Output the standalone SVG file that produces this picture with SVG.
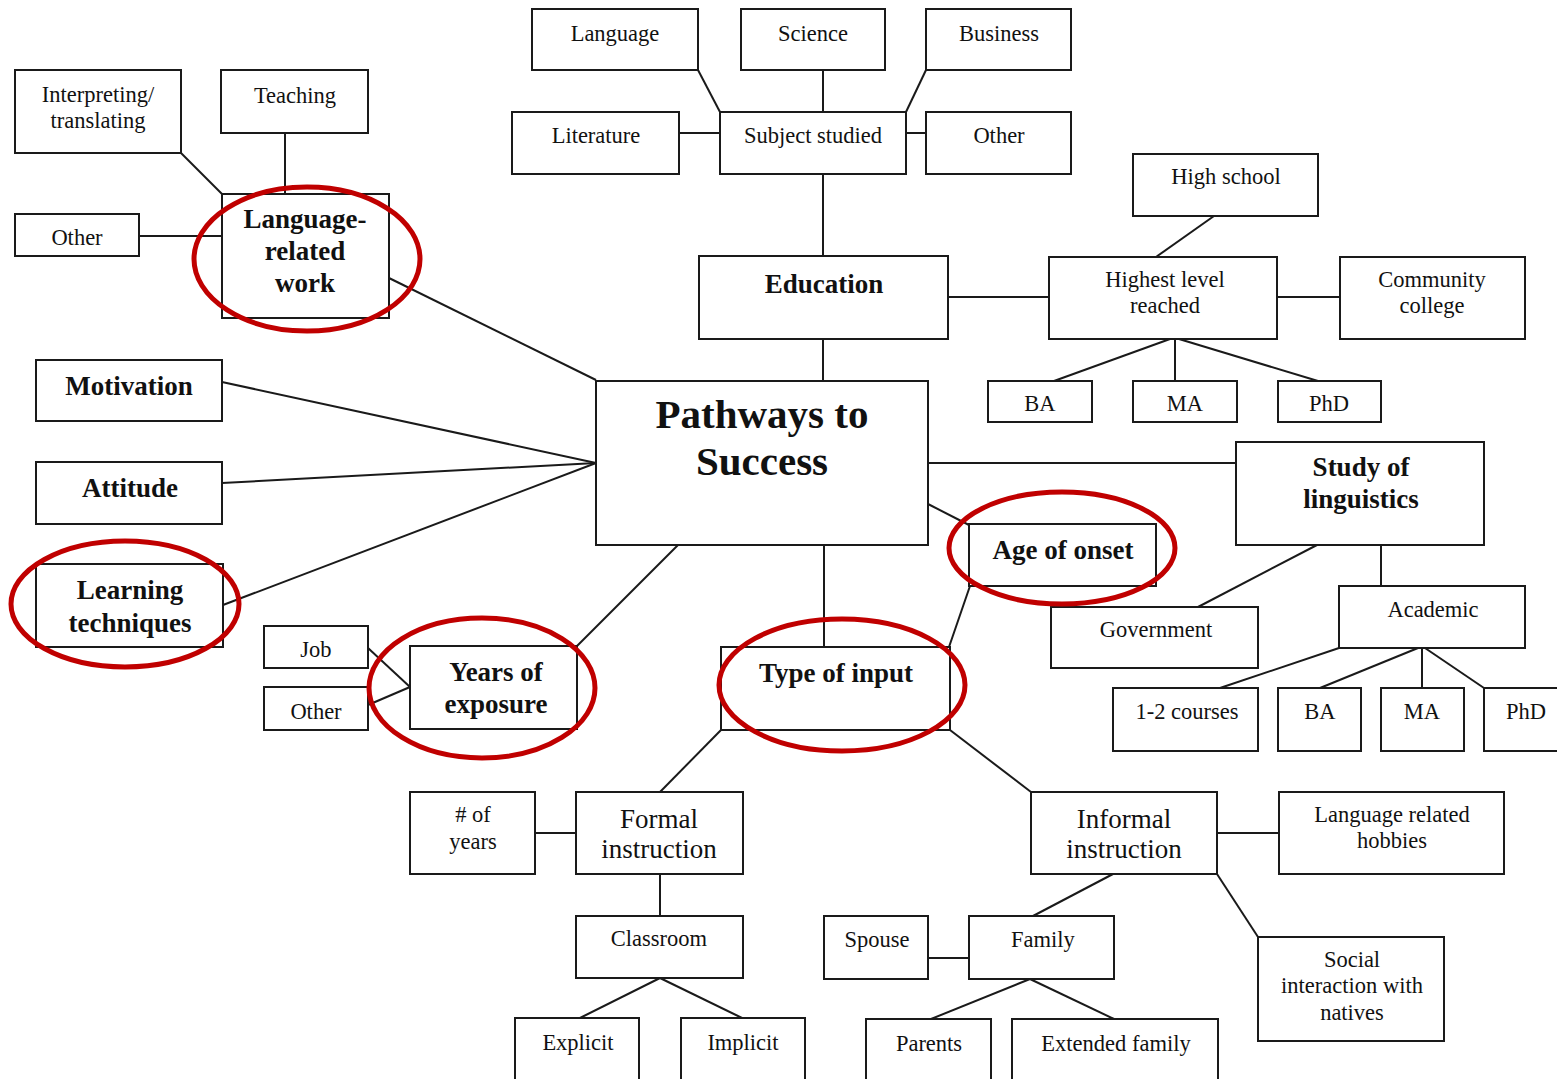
<svg xmlns="http://www.w3.org/2000/svg" width="1557" height="1079" viewBox="0 0 1557 1079">
<style>
.bx{fill:#fff;stroke:#1a1a1a;stroke-width:2}
.ln{stroke:#1a1a1a;stroke-width:2;fill:none}
text{font-family:"Liberation Serif","Times New Roman",serif;font-size:22.5px;text-anchor:middle;fill:#111}
.b{font-weight:bold;font-size:27px}
.big{font-weight:bold;font-size:41px}
.m{font-size:27px}
.ring{fill:none;stroke:#c00000;stroke-width:5}
</style>
<rect width="1557" height="1079" fill="#fff"/>
<g id="connectors">
<line class="ln" x1="181" y1="153" x2="222" y2="194"/>
<line class="ln" x1="285" y1="133" x2="285" y2="194"/>
<line class="ln" x1="139" y1="236" x2="222" y2="236"/>
<line class="ln" x1="389" y1="278" x2="596" y2="380"/>
<line class="ln" x1="222" y1="382" x2="596" y2="463"/>
<line class="ln" x1="222" y1="483" x2="596" y2="463"/>
<line class="ln" x1="223" y1="605" x2="596" y2="463"/>
<line class="ln" x1="678" y1="545" x2="577" y2="646"/>
<line class="ln" x1="368" y1="648" x2="410" y2="687"/>
<line class="ln" x1="368" y1="705" x2="410" y2="687"/>
<line class="ln" x1="698" y1="70" x2="720" y2="112"/>
<line class="ln" x1="823" y1="70" x2="823" y2="112"/>
<line class="ln" x1="926" y1="70" x2="906" y2="112"/>
<line class="ln" x1="679" y1="133" x2="720" y2="133"/>
<line class="ln" x1="906" y1="133" x2="926" y2="133"/>
<line class="ln" x1="823" y1="174" x2="823" y2="256"/>
<line class="ln" x1="823" y1="339" x2="823" y2="381"/>
<line class="ln" x1="948" y1="297" x2="1049" y2="297"/>
<line class="ln" x1="1277" y1="297" x2="1340" y2="297"/>
<line class="ln" x1="1214" y1="216" x2="1156" y2="257"/>
<line class="ln" x1="1170" y1="339" x2="1054" y2="381"/>
<line class="ln" x1="1175" y1="339" x2="1175" y2="381"/>
<line class="ln" x1="1179" y1="339" x2="1318" y2="381"/>
<line class="ln" x1="928" y1="463" x2="1236" y2="463"/>
<line class="ln" x1="928" y1="504" x2="969" y2="525"/>
<line class="ln" x1="970" y1="586" x2="949" y2="647"/>
<line class="ln" x1="824" y1="545" x2="824" y2="647"/>
<line class="ln" x1="1317" y1="545" x2="1198" y2="607"/>
<line class="ln" x1="1381" y1="545" x2="1381" y2="586"/>
<line class="ln" x1="1339" y1="648" x2="1220" y2="688"/>
<line class="ln" x1="1418" y1="648" x2="1320" y2="688"/>
<line class="ln" x1="1422" y1="648" x2="1422" y2="688"/>
<line class="ln" x1="1425" y1="648" x2="1484" y2="688"/>
<line class="ln" x1="721" y1="730" x2="660" y2="792"/>
<line class="ln" x1="950" y1="730" x2="1031" y2="792"/>
<line class="ln" x1="535" y1="833" x2="576" y2="833"/>
<line class="ln" x1="660" y1="874" x2="660" y2="916"/>
<line class="ln" x1="660" y1="978" x2="580" y2="1018"/>
<line class="ln" x1="660" y1="978" x2="742" y2="1018"/>
<line class="ln" x1="1217" y1="833" x2="1279" y2="833"/>
<line class="ln" x1="1113" y1="874" x2="1033" y2="916"/>
<line class="ln" x1="1217" y1="874" x2="1258" y2="937"/>
<line class="ln" x1="928" y1="958" x2="969" y2="958"/>
<line class="ln" x1="1030" y1="979" x2="931" y2="1019"/>
<line class="ln" x1="1030" y1="979" x2="1114" y2="1019"/>
</g>
<g id="n-interp"><rect class="bx" x="15" y="70" width="166" height="83"/><text x="98" y="102">Interpreting/</text><text x="98" y="128">translating</text></g>
<g id="n-teaching"><rect class="bx" x="221" y="70" width="147" height="63"/><text x="295" y="103">Teaching</text></g>
<g id="n-other-lrw"><rect class="bx" x="15" y="214" width="124" height="42"/><text x="77" y="245">Other</text></g>
<g id="n-lrw"><rect class="bx" x="222" y="194" width="167" height="124"/><text class="b" x="305" y="228">Language-</text><text class="b" x="305" y="260">related</text><text class="b" x="305" y="292">work</text></g>
<g id="n-motivation"><rect class="bx" x="36" y="360" width="186" height="61"/><text class="b" x="129" y="395">Motivation</text></g>
<g id="n-attitude"><rect class="bx" x="36" y="462" width="186" height="62"/><text class="b" x="130" y="497">Attitude</text></g>
<g id="n-learning"><rect class="bx" x="36" y="564" width="187" height="83"/><text class="b" x="130" y="599">Learning</text><text class="b" x="130" y="632">techniques</text></g>
<g id="n-job"><rect class="bx" x="264" y="626" width="104" height="42"/><text x="316" y="657">Job</text></g>
<g id="n-other-years"><rect class="bx" x="264" y="687" width="104" height="43"/><text x="316" y="719">Other</text></g>
<g id="n-years"><rect class="bx" x="410" y="646" width="167" height="83"/><text class="b" x="496" y="681">Years of</text><text class="b" x="496" y="713">exposure</text></g>
<g id="n-language"><rect class="bx" x="532" y="9" width="166" height="61"/><text x="615" y="41">Language</text></g>
<g id="n-science"><rect class="bx" x="741" y="9" width="144" height="61"/><text x="813" y="41">Science</text></g>
<g id="n-business"><rect class="bx" x="926" y="9" width="145" height="61"/><text x="999" y="41">Business</text></g>
<g id="n-literature"><rect class="bx" x="512" y="112" width="167" height="62"/><text x="596" y="143">Literature</text></g>
<g id="n-subject"><rect class="bx" x="720" y="112" width="186" height="62"/><text x="813" y="143">Subject studied</text></g>
<g id="n-other-subj"><rect class="bx" x="926" y="112" width="145" height="62"/><text x="999" y="143">Other</text></g>
<g id="n-education"><rect class="bx" x="699" y="256" width="249" height="83"/><text class="b" x="824" y="293">Education</text></g>
<g id="n-highschool"><rect class="bx" x="1133" y="154" width="185" height="62"/><text x="1226" y="184">High school</text></g>
<g id="n-highest"><rect class="bx" x="1049" y="257" width="228" height="82"/><text x="1165" y="287">Highest level</text><text x="1165" y="313">reached</text></g>
<g id="n-community"><rect class="bx" x="1340" y="257" width="185" height="82"/><text x="1432" y="287">Community</text><text x="1432" y="313">college</text></g>
<g id="n-ba1"><rect class="bx" x="988" y="381" width="104" height="41"/><text x="1040" y="411">BA</text></g>
<g id="n-ma1"><rect class="bx" x="1133" y="381" width="104" height="41"/><text x="1185" y="411">MA</text></g>
<g id="n-phd1"><rect class="bx" x="1278" y="381" width="103" height="41"/><text x="1329" y="411">PhD</text></g>
<g id="n-pathways"><rect class="bx" x="596" y="381" width="332" height="164"/><text class="big" x="762" y="428">Pathways to</text><text class="big" x="762" y="475">Success</text></g>
<g id="n-study"><rect class="bx" x="1236" y="442" width="248" height="103"/><text class="b" x="1361" y="476">Study of</text><text class="b" x="1361" y="508">linguistics</text></g>
<g id="n-age"><rect class="bx" x="969" y="524" width="187" height="62"/><text class="b" x="1063" y="559">Age of onset</text></g>
<g id="n-government"><rect class="bx" x="1051" y="607" width="207" height="61"/><text x="1156" y="637">Government</text></g>
<g id="n-academic"><rect class="bx" x="1339" y="586" width="186" height="62"/><text x="1433" y="617">Academic</text></g>
<g id="n-courses"><rect class="bx" x="1113" y="688" width="145" height="63"/><text x="1187" y="719">1-2 courses</text></g>
<g id="n-ba2"><rect class="bx" x="1278" y="688" width="83" height="63"/><text x="1320" y="719">BA</text></g>
<g id="n-ma2"><rect class="bx" x="1381" y="688" width="83" height="63"/><text x="1422" y="719">MA</text></g>
<g id="n-phd2"><rect class="bx" x="1484" y="688" width="80" height="63"/><text x="1526" y="719">PhD</text></g>
<g id="n-type"><rect class="bx" x="721" y="647" width="229" height="83"/><text class="b" x="836" y="682">Type of input</text></g>
<g id="n-years-num"><rect class="bx" x="410" y="792" width="125" height="82"/><text x="473" y="822"># of</text><text x="473" y="849">years</text></g>
<g id="n-formal"><rect class="bx" x="576" y="792" width="167" height="82"/><text class="m" x="659" y="828">Formal</text><text class="m" x="659" y="858">instruction</text></g>
<g id="n-classroom"><rect class="bx" x="576" y="916" width="167" height="62"/><text x="659" y="946">Classroom</text></g>
<g id="n-explicit"><rect class="bx" x="515" y="1018" width="124" height="70"/><text x="578" y="1050">Explicit</text></g>
<g id="n-implicit"><rect class="bx" x="681" y="1018" width="124" height="70"/><text x="743" y="1050">Implicit</text></g>
<g id="n-informal"><rect class="bx" x="1031" y="792" width="186" height="82"/><text class="m" x="1124" y="828">Informal</text><text class="m" x="1124" y="858">instruction</text></g>
<g id="n-hobbies"><rect class="bx" x="1279" y="792" width="225" height="82"/><text x="1392" y="822">Language related</text><text x="1392" y="848">hobbies</text></g>
<g id="n-spouse"><rect class="bx" x="824" y="916" width="104" height="63"/><text x="877" y="947">Spouse</text></g>
<g id="n-family"><rect class="bx" x="969" y="916" width="145" height="63"/><text x="1043" y="947">Family</text></g>
<g id="n-social"><rect class="bx" x="1258" y="937" width="186" height="104"/><text x="1352" y="967">Social</text><text x="1352" y="993">interaction with</text><text x="1352" y="1020">natives</text></g>
<g id="n-parents"><rect class="bx" x="866" y="1019" width="125" height="70"/><text x="929" y="1051">Parents</text></g>
<g id="n-extended"><rect class="bx" x="1012" y="1019" width="206" height="70"/><text x="1116" y="1051">Extended family</text></g>
<g id="highlights">
<ellipse class="ring" cx="307" cy="259" rx="113" ry="72"/>
<ellipse class="ring" cx="125" cy="604" rx="114" ry="63"/>
<ellipse class="ring" cx="482" cy="688" rx="113" ry="70"/>
<ellipse class="ring" cx="842" cy="685" rx="123" ry="66"/>
<ellipse class="ring" cx="1062" cy="548" rx="113" ry="56"/>
</g>
</svg>
